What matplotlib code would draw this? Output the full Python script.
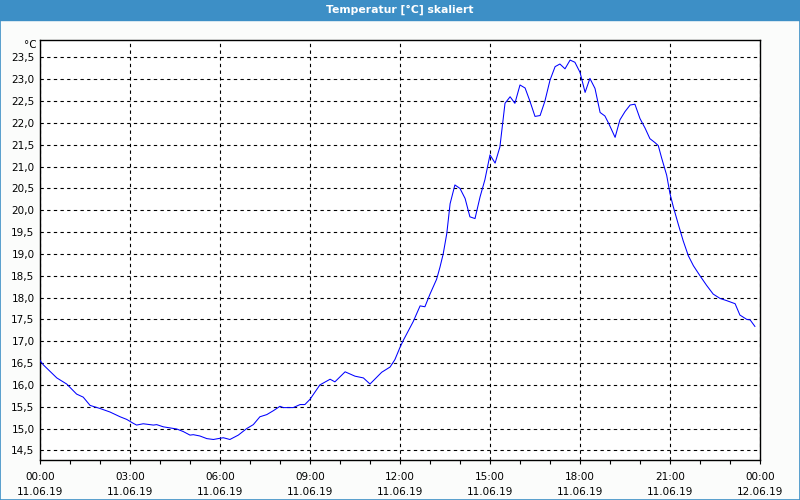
import matplotlib
matplotlib.use("Agg")
import matplotlib.pyplot as plt
from matplotlib.ticker import MultipleLocator, FixedLocator, FuncFormatter

# hours since 11.06.19 00:00, temperature in °C
hours = [0.0, 0.11, 0.56, 0.89, 1.22, 1.44, 1.67, 2.0, 2.33, 2.67, 2.89, 3.11, 3.22,
         3.44, 3.78, 3.89, 4.11, 4.56, 4.78, 5.0, 5.11, 5.33, 5.56, 5.78, 5.94, 6.11,
         6.33, 6.61, 6.89, 7.11, 7.33, 7.56, 7.78, 8.0, 8.11, 8.44, 8.67, 8.83, 9.0,
         9.33, 9.67, 9.83, 10.17, 10.5, 10.78, 11.0, 11.39, 11.67, 11.83, 12.0, 12.11,
         12.44, 12.67, 12.83, 13.0, 13.22, 13.33, 13.44, 13.56, 13.67, 13.83, 14.0,
         14.17, 14.33, 14.5, 14.67, 14.83, 15.0, 15.17, 15.33, 15.5, 15.67, 15.83,
         16.0, 16.17, 16.33, 16.5, 16.67, 16.83, 17.0, 17.17, 17.33, 17.5, 17.67,
         17.83, 18.0, 18.17, 18.33, 18.5, 18.67, 18.83, 18.97, 19.17, 19.33, 19.5,
         19.67, 19.83, 20.0, 20.17, 20.33, 20.5, 20.61, 20.72, 20.89, 21.0, 21.11,
         21.28, 21.44, 21.61, 21.78, 22.0, 22.22, 22.44, 22.67, 22.89, 23.17, 23.33,
         23.56, 23.67, 23.83]
temps = [16.56, 16.46, 16.16, 16.02, 15.79, 15.72, 15.53, 15.46, 15.38, 15.27, 15.21,
         15.12, 15.08, 15.11, 15.08, 15.09, 15.04, 14.99, 14.93, 14.85, 14.86, 14.83,
         14.77, 14.75, 14.77, 14.79, 14.75, 14.85, 15.0, 15.09, 15.27, 15.32, 15.41,
         15.51, 15.48, 15.48, 15.55, 15.55, 15.67, 16.0, 16.13, 16.07, 16.30, 16.2,
         16.16, 16.02, 16.29, 16.41, 16.58, 16.86, 17.02, 17.45, 17.81, 17.79, 18.08,
         18.42, 18.69, 19.0, 19.47, 20.15, 20.58, 20.5, 20.27, 19.85, 19.81, 20.31,
         20.7, 21.27, 21.08, 21.45, 22.45, 22.6, 22.45, 22.87, 22.8, 22.5, 22.15,
         22.17, 22.5, 22.98, 23.29, 23.35, 23.24, 23.44, 23.39, 23.16, 22.7, 23.02,
         22.79, 22.24, 22.16, 21.97, 21.67, 22.07, 22.26, 22.41, 22.43, 22.1, 21.88,
         21.64, 21.55, 21.48, 21.2, 20.8, 20.38, 20.08, 19.67, 19.3, 18.96, 18.73,
         18.5, 18.28, 18.08, 17.98, 17.93, 17.86, 17.6, 17.5, 17.49, 17.34]

tick_hours = [0, 3, 6, 9, 12, 15, 18, 21, 24]
tick_times = ["00:00", "03:00", "06:00", "09:00", "12:00", "15:00", "18:00", "21:00", "00:00"]
tick_dates = ["11.06.19"] * 8 + ["12.06.19"]

TITLE = "Temperatur [°C] skaliert"
BAR = "#3d8fc6"
BG = "#fbfcfb"

fig = plt.figure(figsize=(8, 5), dpi=100, facecolor=BG)

# title bar and thin frame
fig.patches.append(plt.Rectangle((0, 0.96), 1, 0.04, transform=fig.transFigure,
                                 color=BAR, zorder=0))
fig.patches.append(plt.Rectangle((0.0006, 0.001), 0.9988, 0.998, transform=fig.transFigure,
                                 fill=False, edgecolor=BAR, lw=1.2, zorder=0))
fig.text(0.5, 0.981, TITLE, color="white", fontsize=7.8, fontweight="bold",
         ha="center", va="center")

ax = fig.add_axes([0.05, 0.08, 0.90, 0.84])
ax.set_facecolor("white")
ax.plot(hours, temps, color="#0000ff", lw=0.75, zorder=3)

ax.set_xlim(0, 24)
ax.set_ylim(14.28, 23.9)

ax.xaxis.set_major_locator(FixedLocator(tick_hours))
ax.xaxis.set_minor_locator(MultipleLocator(1))
ax.set_xticklabels([f"{t}\n{d}" for t, d in zip(tick_times, tick_dates)],
                   fontsize=7.5, linespacing=1.55)
ax.yaxis.set_major_locator(MultipleLocator(0.5))
ax.yaxis.set_major_formatter(FuncFormatter(lambda v, p: f"{v:.1f}".replace(".", ",")))

ax.tick_params(axis="x", which="major", length=3, width=0.8, pad=6, colors="black")
ax.tick_params(axis="x", which="minor", length=3, width=0.8)
ax.tick_params(axis="y", length=0, pad=4, labelsize=7.5)

ax.grid(True, which="major", color="black", ls=(0, (3, 3)), lw=0.8)
for s in ax.spines.values():
    s.set_linewidth(1.0)
    s.set_color("black")

ax.text(-0.005, 1.0, "°C", transform=ax.transAxes, ha="right", va="top", fontsize=7.5)

fig.savefig("out.png", dpi=100, facecolor=BG)
